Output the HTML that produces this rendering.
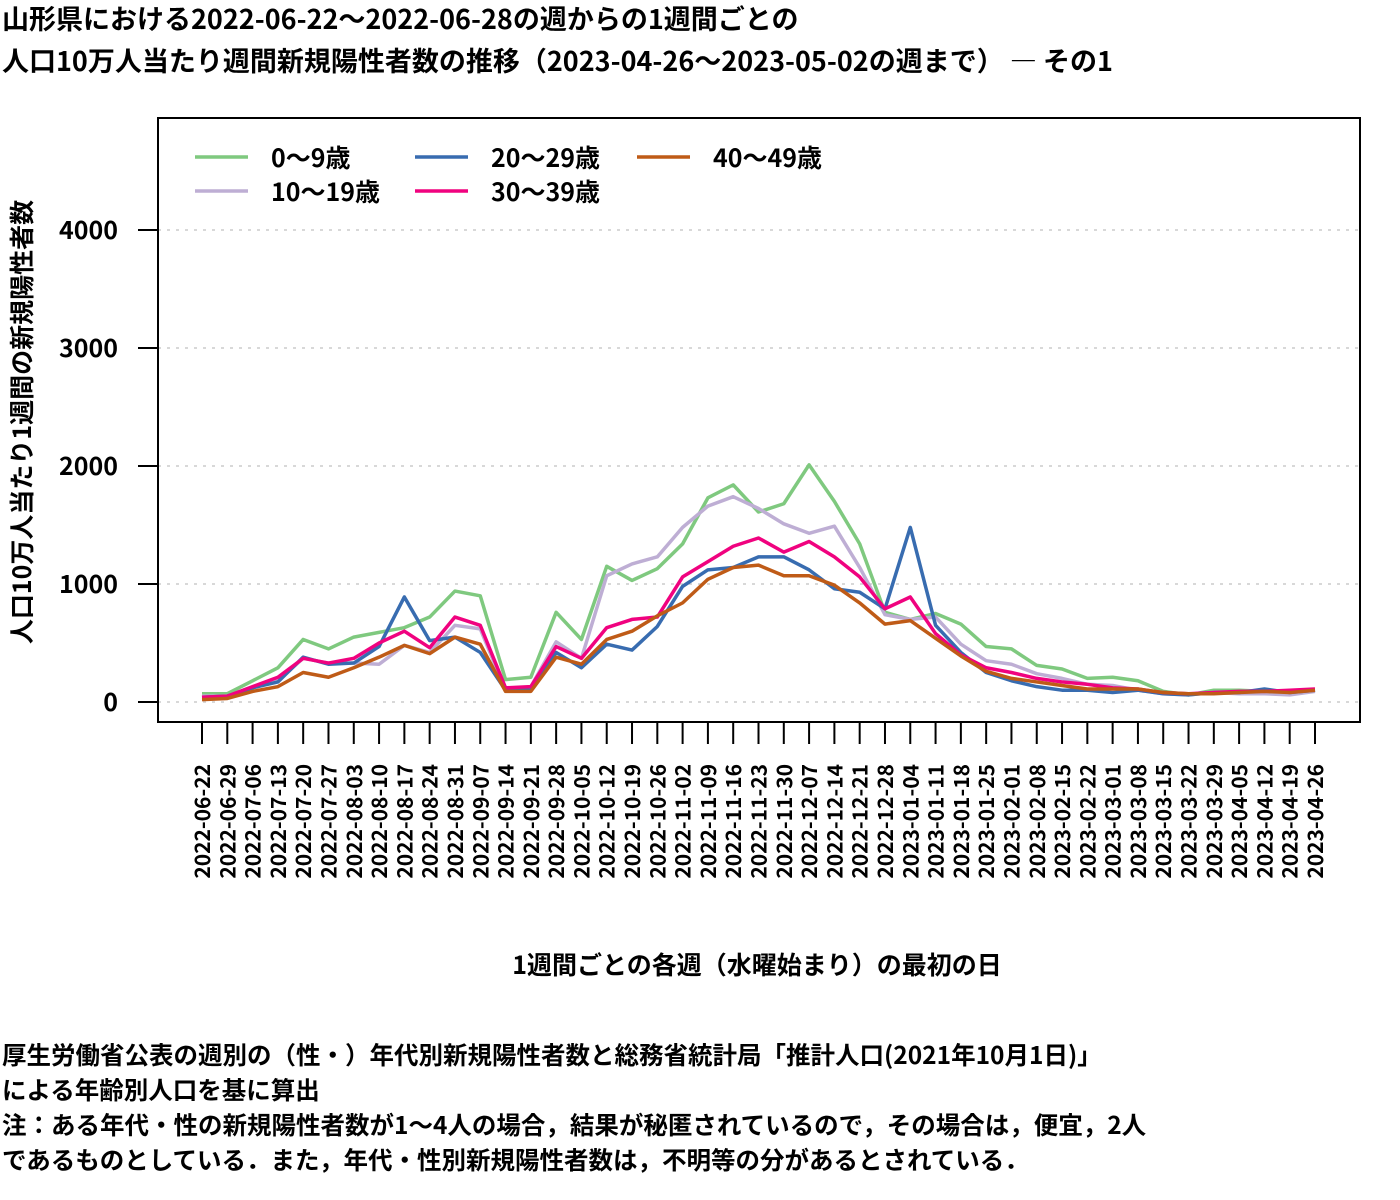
<!DOCTYPE html>
<html><head><meta charset="utf-8"><style>
body{margin:0;background:#fff;width:1400px;height:1200px;overflow:hidden;font-family:"Noto Sans CJK JP","Liberation Sans",sans-serif;font-weight:bold}
.t{position:absolute;left:2px;font-size:27px;line-height:30px;white-space:nowrap;color:#000}
.n{position:absolute;left:2px;font-size:24.5px;line-height:30px;white-space:nowrap;color:#000}
svg text{font-family:"Noto Sans CJK JP","Liberation Sans",sans-serif}
</style></head><body>
<div class="t" style="top:3px">山形県における2022-06-22～2022-06-28の週からの1週間ごとの</div>
<div class="t" style="top:45px">人口10万人当たり週間新規陽性者数の推移（2023-04-26～2023-05-02の週まで） ― その1</div>
<div class="n" style="top:1040px">厚生労働省公表の週別の（性・）年代別新規陽性者数と総務省統計局「推計人口(2021年10月1日)」</div>
<div class="n" style="top:1075px">による年齢別人口を基に算出</div>
<div class="n" style="top:1110px">注：ある年代・性の新規陽性者数が1～4人の場合，結果が秘匿されているので，その場合は，便宜，2人</div>
<div class="n" style="top:1145px">であるものとしている．また，年代・性別新規陽性者数は，不明等の分があるとされている．</div>
<svg id="chart" width="1400" height="1000" style="position:absolute;left:0;top:0"></svg>
<script>
const categories=["2022-06-22","2022-06-29","2022-07-06","2022-07-13","2022-07-20","2022-07-27","2022-08-03","2022-08-10","2022-08-17","2022-08-24","2022-08-31","2022-09-07","2022-09-14","2022-09-21","2022-09-28","2022-10-05","2022-10-12","2022-10-19","2022-10-26","2022-11-02","2022-11-09","2022-11-16","2022-11-23","2022-11-30","2022-12-07","2022-12-14","2022-12-21","2022-12-28","2023-01-04","2023-01-11","2023-01-18","2023-01-25","2023-02-01","2023-02-08","2023-02-15","2023-02-22","2023-03-01","2023-03-08","2023-03-15","2023-03-22","2023-03-29","2023-04-05","2023-04-12","2023-04-19","2023-04-26"];
const age0_9=[70,70,180,290,530,450,550,590,630,720,940,900,190,210,760,530,1150,1030,1130,1340,1730,1840,1610,1680,2010,1700,1340,760,700,750,660,470,450,310,280,200,210,180,90,60,100,100,90,80,100];
const age10_19=[50,50,120,180,370,330,330,320,480,420,650,620,100,130,510,370,1070,1170,1230,1480,1660,1740,1640,1510,1430,1490,1140,740,700,720,490,350,320,240,200,150,140,100,70,60,80,70,70,60,90];
const age20_29=[40,50,120,170,380,320,330,470,890,520,550,420,100,100,420,290,490,440,640,980,1120,1140,1230,1230,1120,960,930,790,1480,650,420,250,180,130,100,100,80,100,70,60,80,80,110,80,100];
const age30_39=[40,50,130,210,370,330,370,500,600,460,720,650,120,130,470,370,630,700,720,1060,1190,1320,1390,1270,1360,1230,1060,790,890,580,400,290,250,200,170,150,120,110,80,70,80,90,90,100,110];
const age40_49=[20,30,90,130,250,210,290,380,480,410,550,490,90,90,380,320,530,600,730,840,1040,1140,1160,1070,1070,990,840,660,690,540,390,260,200,170,140,110,110,110,80,70,70,80,90,80,100];
const yTicks=[0,1000,2000,3000,4000];
const seriesNames=["0～9歳","10～19歳","20～29歳","30～39歳","40～49歳"];
const seriesColors=["#7fc97f","#beaed4","#386cb0","#f0027f","#bf5b17"];
const S=document.getElementById('chart'),NS="http://www.w3.org/2000/svg";
function el(t,a,p){const e=document.createElementNS(NS,t);for(const k in a)e.setAttribute(k,a[k]);(p||S).appendChild(e);return e;}
const X=i=>202+i*(1315-202)/(categories.length-1);
const Y=v=>702-v*0.118;
yTicks.forEach(v=>{const g=el('line',{x1:158,x2:1360,y1:Y(v),y2:Y(v),stroke:'#ccc','stroke-width':1.5,'stroke-dasharray':'3,6'});

const tk=el('line',{x1:138,x2:158,y1:Y(v),y2:Y(v),stroke:'#000','stroke-width':2});

const t=el('text',{x:118,y:Y(v)+9,'text-anchor':'end','font-size':25,'font-weight':'bold'});t.textContent=v;
});
const fr=el('rect',{x:158,y:118,width:1202,height:604,fill:'none',stroke:'#000','stroke-width':2});

categories.forEach((c,i)=>{const tk=el('line',{x1:X(i),x2:X(i),y1:722,y2:744,stroke:'#000','stroke-width':2});

const t=el('text',{x:0,y:0,'text-anchor':'end','font-size':21,'font-weight':'bold',transform:`translate(${X(i)+8},764) rotate(-90)`});t.textContent=c;
});
[age0_9,age10_19,age20_29,age30_39,age40_49].forEach((d,s)=>{const p=el('polyline',{points:d.map((v,i)=>X(i)+','+Y(v)).join(' '),fill:'none',stroke:seriesColors[s],'stroke-width':3.5,'stroke-linejoin':'round'});
});
const lp=[[195,160],[195,194],[415,160],[415,194],[637,160]];
seriesNames.forEach((n,s)=>{const g=el('g',{});
el('line',{x1:lp[s][0],x2:lp[s][0]+53,y1:lp[s][1]-3,y2:lp[s][1]-3,stroke:seriesColors[s],'stroke-width':3.5},g);
const t=el('text',{x:lp[s][0]+76,y:lp[s][1]+7,'font-size':25,'font-weight':'bold'},g);t.textContent=n;});
const yt=el('text',{x:0,y:0,'text-anchor':'middle','font-size':25,'font-weight':'bold',transform:'translate(31,422) rotate(-90)'});yt.textContent='人口10万人当たり1週間の新規陽性者数';

const xt=el('text',{x:757,y:974,'text-anchor':'middle','font-size':25,'font-weight':'bold'});xt.textContent='1週間ごとの各週（水曜始まり）の最初の日';

</script>
</body></html>
